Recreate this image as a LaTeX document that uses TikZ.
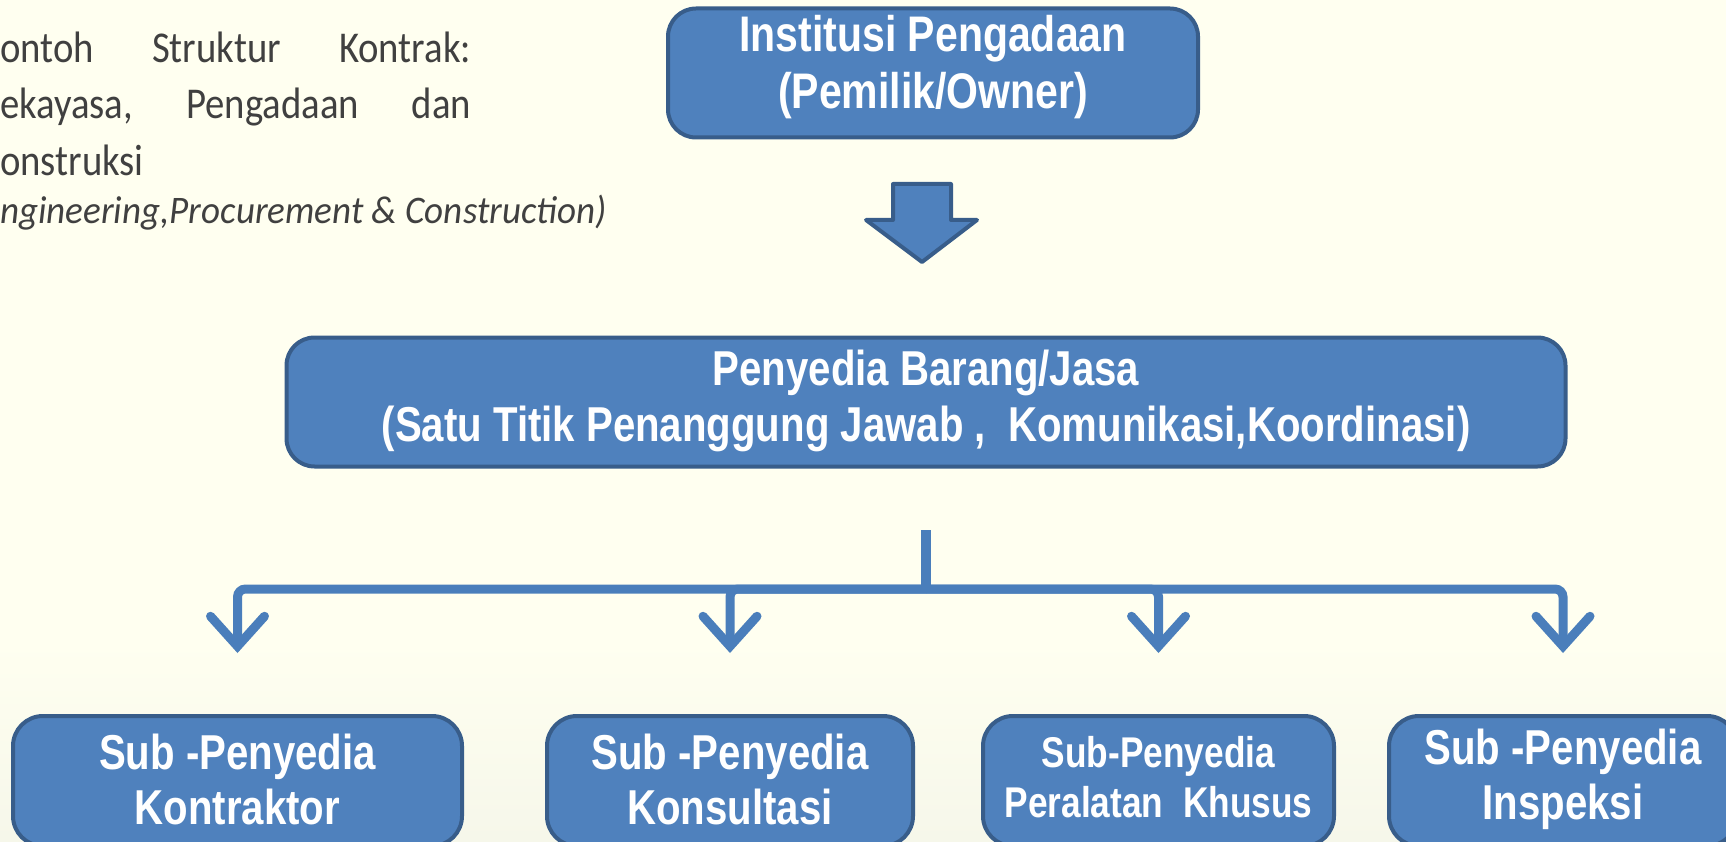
\documentclass[tikz,border=0pt]{standalone}
\usepackage{fontspec}
\setmainfont{Carlito}
\newfontfamily\introfont[FakeStretch=0.88]{Carlito}
\newfontfamily\introitfont[FakeStretch=0.95]{Carlito}
\newfontfamily\boxfont[FakeStretch=0.82]{Liberation Sans}
\usetikzlibrary{arrows.meta}
\definecolor{bg}{RGB}{255,255,240}
\definecolor{bgbot}{RGB}{246,247,234}
\definecolor{boxfill}{RGB}{79,129,189}
\definecolor{boxdraw}{RGB}{56,93,138}
\definecolor{conncol}{RGB}{74,126,187}
\definecolor{introcol}{RGB}{64,64,64}
\tikzset{
  box/.style={draw=boxdraw, fill=boxfill, line width=4pt, rounded corners=28pt, inner sep=0pt},
  boxtext/.style={text=white, inner sep=0pt, align=center, font=\boxfont\bfseries\fontsize{50}{57}\selectfont},
  midtext/.style={boxtext, font=\boxfont\bfseries\fontsize{49}{56}\selectfont},
  subtext/.style={boxtext, font=\boxfont\bfseries\fontsize{49}{55}\selectfont},
  smalltext/.style={boxtext, font=\boxfont\bfseries\fontsize{43}{50}\selectfont},
  intro/.style={text=introcol, inner sep=0pt, anchor=base west, font=\introfont\fontsize{44}{50}\selectfont},
  conn/.style={draw=conncol, line width=9pt, rounded corners=8pt, shorten >=61pt,
    -{Straight Barb[length=30pt, width=54pt, line cap=round, line join=miter]}},
  stemline/.style={draw=conncol, line width=10pt},
  blockarrow/.style={draw=boxdraw, fill=boxfill, line width=4pt, line join=round}
}
\begin{document}
\begin{tikzpicture}[x=1pt,y=-1pt]
\useasboundingbox (0,0) rectangle (1726,842);
\fill[bg] (0,0) rectangle (1726,842);
\shade[top color=bg, bottom color=bgbot] (0,640) rectangle (1726,842);
\begin{scope}
\clip (0,0) rectangle (1726,842);
% intro text
\node[intro] (l1) at (0,63) {\hbox to 471pt{ontoh\hfill Struktur\hfill Kontrak:}};
\node[intro] (l2) at (0,119) {\hbox to 471pt{ekayasa,\hfill Pengadaan\hfill dan}};
\node[intro] (l3) at (0,176) {onstruksi};
\node[intro, font=\introitfont\itshape\fontsize{39}{45}\selectfont] (l4) at (0,224) {ngineering,Procurement \& Construction)};
% top box
\node[box, minimum width=530pt, minimum height=129pt] (owner) at (933,73) {};
\node[boxtext] (ownertxt) at (933,67) {Institusi Pengadaan\\(Pemilik/Owner)};
% block arrow
\draw[blockarrow] (893,184) -- (951,184) -- (951,220) -- (977,220) -- (922,262) -- (866,220) -- (893,220) -- cycle;
% middle box
\node[box, minimum width=1279pt, minimum height=129pt] (prov) at (926,402) {};
\node[midtext] (provtxt) at (926,401) {Penyedia Barang/Jasa\\(Satu Titik Penanggung Jawab ,\ \ Komunikasi,Koordinasi)};
% bottom boxes
\node[box, rounded corners=30pt, minimum width=449pt, minimum height=130pt] (b1) at (237.5,781) {};
\node[box, rounded corners=30pt, minimum width=366pt, minimum height=130pt] (b2) at (730,781) {};
\node[box, rounded corners=30pt, minimum width=351pt, minimum height=130pt] (b3) at (1158.5,781) {};
\node[box, rounded corners=30pt, minimum width=348pt, minimum height=130pt] (b4) at (1563,781) {};
\node[subtext] (t1) at (237.5,779) {Sub -Penyedia\\Kontraktor};
\node[subtext] (t2) at (730,779) {Sub -Penyedia\\Konsultasi};
\node[smalltext] (t3) at (1158.5,777) {Sub-Penyedia\\Peralatan\ \ Khusus};
\node[subtext] (t4) at (1563,779) {Sub -Penyedia\\Inspeksi};
% connectors
\coordinate (stemtop) at (926,530);
\coordinate (hub) at (926,589);
\draw[stemline] (stemtop) -- (hub);
\draw[conn] (hub) -| (b1.north);
\draw[conn] (hub) -| (b2.north);
\draw[conn] (hub) -| (b3.north);
\draw[conn] (hub) -| (b4.north);
\end{scope}
\end{tikzpicture}
\end{document}
